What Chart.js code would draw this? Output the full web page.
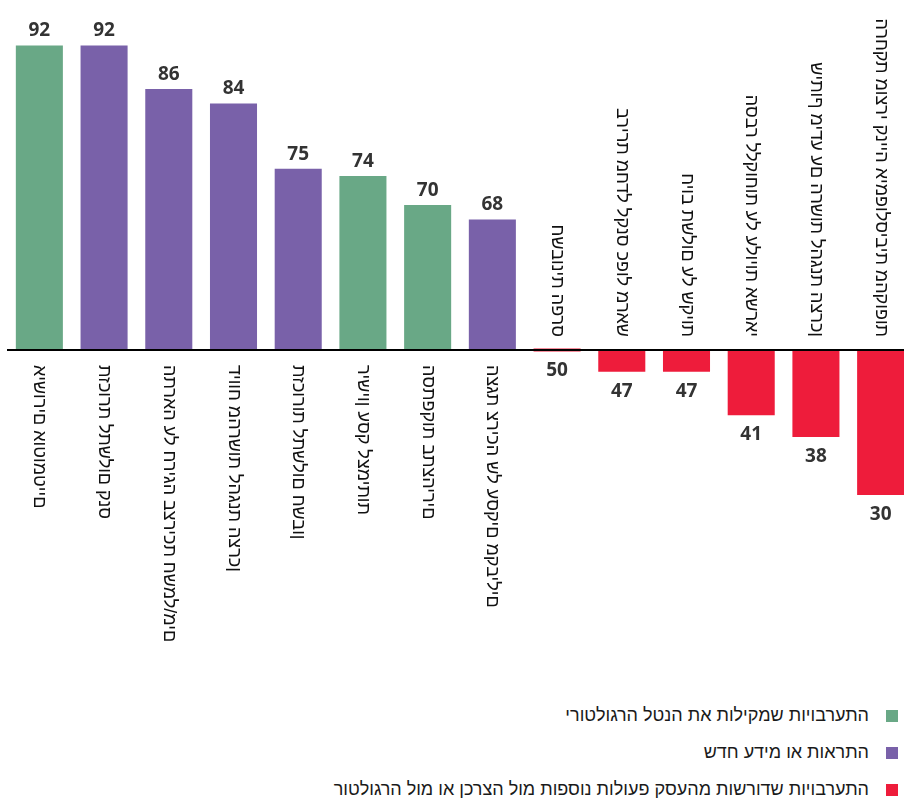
<!DOCTYPE html>
<html lang="he">
<head>
<meta charset="utf-8">
<title>התערבויות רגולטוריות</title>
<script src="https://cdn.jsdelivr.net/npm/chart.js@4.4.1/dist/chart.umd.min.js"></script>
<style>
    html, body {
        margin: 0;
        padding: 0;
        background: #fff;
        overflow: hidden;
        width: 904px;
        height: 800px;
    }
    #chartBox {
        position: absolute;
        left: 0;
        top: 0;
        width: 920px;
        height: 690px;
    }
    #legend {
        position: absolute;
        right: 6px;
        top: 697px;
        direction: rtl;
        font-family: 'Liberation Sans', Arial, sans-serif;
        font-size: 18px;
        color: #1a1a1a;
    }
    .legend-item {
        display: flex;
        align-items: center;
        height: 37px;
    }
    .legend-swatch {
        width: 12px;
        height: 12px;
        margin-left: 17px;
        flex: none;
    }
</style>
</head>
<body>
<div id="chartBox"><canvas id="scoreChart"></canvas></div>
<div id="legend"></div>

<script>
const categories = [
    'אישורים אוטומטיים',
    'תזכורת לתשלום קנס',
    'התראה על חריגה בצריכת חשמל/מים',
    'דיווח מהרשות להגנת הצרכן',
    'תזכורות לתשלום חשבון',
    'רישיון עסק לצמיתות',
    'הסתפקות בתצהירים',
    'הצגת צריכה של עסקים מקבילים',
    'חשבונית הפרס',
    'ברירת מחדל לקנס כפול מראש',
    'חיוב תשלום על שקיות',
    'הסבר ללקוחות על עלויות אשראי',
    'שיתוף מידע עם הרשות להגנת הצרכן',
    'הרחקת מוצרי קנייה אימפולסיבית מהקופות'
];

const scores = [92, 92, 86, 84, 75, 74, 70, 68, 50, 47, 47, 41, 38, 30];

// g = מקילות, p = התראות, r = דורשות פעולות
const groups = ['g', 'p', 'p', 'p', 'p', 'g', 'g', 'p', 'r', 'r', 'r', 'r', 'r', 'r'];

const groupNames = [
    'התערבויות שמקילות את הנטל הרגולטורי',
    'התראות או מידע חדש',
    'התערבויות שדורשות מהעסק פעולות נוספות מול הצרכן או מול הרגולטור'
];
const groupKeys = ['g', 'p', 'r'];

const BASE = 50;

const colors = {
    g: '#69a886',
    p: '#7961a9',
    r: '#ee1c3b'
};

const labelFont = '"Liberation Sans", Arial, sans-serif';

document.addEventListener('DOMContentLoaded', function() {
    buildLegend();
    initChart();
});

function buildLegend() {
    const legend = document.getElementById('legend');
    groupKeys.forEach((key, i) => {
        const item = document.createElement('div');
        item.className = 'legend-item';
        const swatch = document.createElement('span');
        swatch.className = 'legend-swatch';
        swatch.style.background = colors[key];
        const text = document.createElement('span');
        text.textContent = groupNames[i];
        item.appendChild(swatch);
        item.appendChild(text);
        legend.appendChild(item);
    });
}

// baseline, value labels and rotated category labels
const annotatePlugin = {
    id: 'annotate',
    afterDatasetsDraw(chart) {
        const ctx = chart.ctx;
        const meta = chart.getDatasetMeta(0);
        const yBase = chart.scales.y.getPixelForValue(BASE);
        const area = chart.chartArea;

        ctx.save();
        ctx.strokeStyle = '#000';
        ctx.lineWidth = 2;
        ctx.beginPath();
        ctx.moveTo(area.left, yBase);
        ctx.lineTo(area.right, yBase);
        ctx.stroke();

        ctx.fillStyle = '#333';
        ctx.font = 'bold 19px "Open Sans", "Liberation Sans", sans-serif';
        ctx.textAlign = 'center';
        meta.data.forEach((bar, i) => {
            const v = scores[i];
            if (v > BASE) {
                ctx.textBaseline = 'bottom';
                ctx.fillText(String(v), bar.x, bar.y - 5);
            } else {
                ctx.textBaseline = 'top';
                ctx.fillText(String(v), bar.x, Math.max(bar.y, bar.base) + 10);
            }
        });

        ctx.fillStyle = '#111';
        ctx.font = '18px ' + labelFont;
        ctx.textBaseline = 'middle';
        ctx.direction = 'ltr';
        meta.data.forEach((bar, i) => {
            const label = '\u202D' + categories[i] + '\u202C';
            ctx.save();
            ctx.translate(bar.x, yBase);
            ctx.rotate(Math.PI / 2);
            if (scores[i] > BASE) {
                ctx.textAlign = 'left';
                ctx.fillText(label, 15, 0);
            } else {
                ctx.textAlign = 'right';
                ctx.fillText(label, -13, 0);
            }
            ctx.restore();
        });
        ctx.restore();
    }
};

function initChart() {
    const ctx = document.getElementById('scoreChart').getContext('2d');
    new Chart(ctx, {
        type: 'bar',
        data: {
            labels: categories,
            datasets: [{
                data: scores,
                base: BASE,
                backgroundColor: groups.map(g => colors[g]),
                borderWidth: 0,
                barPercentage: 0.727,
                categoryPercentage: 1,
                minBarLength: 3
            }]
        },
        options: {
            responsive: true,
            maintainAspectRatio: false,
            animation: false,
            events: [],
            layout: {
                padding: { left: 7, right: 7, top: 9.25, bottom: 6.5 }
            },
            plugins: {
                legend: { display: false },
                tooltip: { enabled: false }
            },
            scales: {
                x: { display: false },
                y: { display: false, min: 4, max: 97 }
            }
        },
        plugins: [annotatePlugin]
    });
}
</script>
</body>
</html>
